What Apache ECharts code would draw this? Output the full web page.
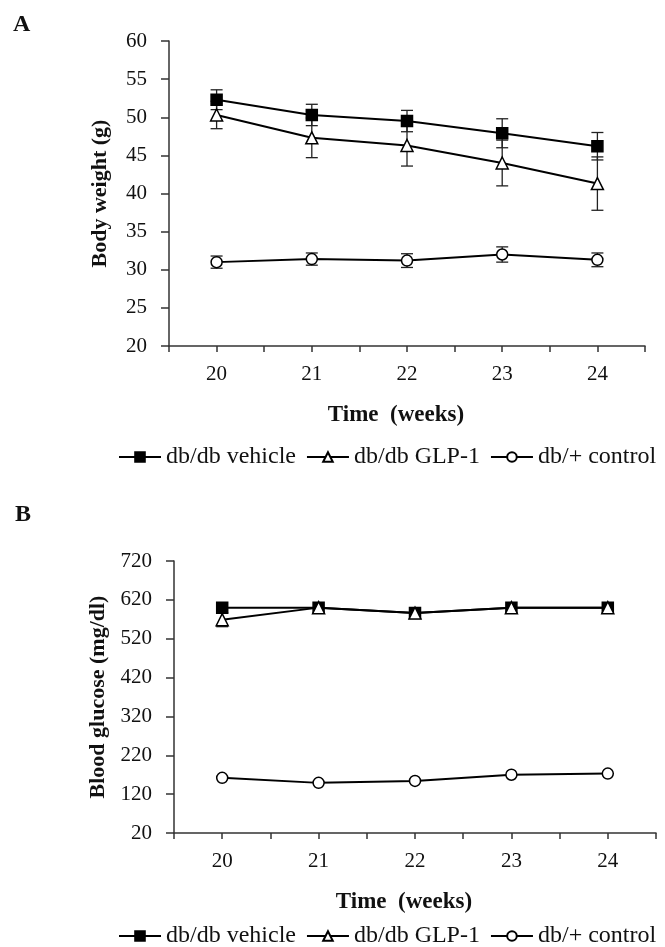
<!DOCTYPE html>
<html>
<head>
<meta charset="utf-8">
<script src="https://cdn.jsdelivr.net/npm/echarts@6/dist/echarts.min.js"></script>
<style>
  html, body { margin: 0; padding: 0; background: #fff; }
  #chart { width: 665px; height: 947px; }
</style>
</head>
<body>
<div id="chart"></div>
<script>
// weeks on the x axis
const weeks = [20, 21, 22, 23, 24];
const seriesNames = ['db/db vehicle', 'db/db GLP-1', 'db/+ control'];

// panel A: body weight (g), mean and error
const weightVehicle = [52.3, 50.3, 49.5, 47.9, 46.2];
const weightVehicleErr = [1.3, 1.4, 1.4, 1.9, 1.8];
const weightGlp = [50.3, 47.3, 46.3, 44.0, 41.3];
const weightGlpErr = [1.8, 2.6, 2.7, 3.0, 3.5];
const weightControl = [31.0, 31.4, 31.2, 32.0, 31.3];
const weightControlErr = [0.8, 0.8, 0.9, 1.0, 0.9];

// panel B: blood glucose (mg/dl)
const glucoseVehicle = [600, 600, 586, 600, 600];
const glucoseVehicleErr = [0, 0, 0, 0, 0];
const glucoseGlp = [569, 600, 586, 600, 600];
const glucoseGlpErr = [18, 0, 0, 0, 0];
const glucoseControl = [162, 149, 154, 170, 173];
const glucoseControlErr = [0, 0, 0, 0, 0];

const FONT = '"Liberation Serif", "Times New Roman", serif';
const AXIS_COLOR = '#333';

const chart = echarts.init(document.getElementById('chart'));

function xAxisFor(gridIndex) {
  return {
    type: 'value',
    gridIndex,
    min: 19.5,
    max: 24.5,
    interval: 0.5,
    name: 'Time  (weeks)',
    nameLocation: 'middle',
    nameGap: 58,
    nameTextStyle: { fontFamily: FONT, fontSize: 23, fontWeight: 'bold', color: '#111', padding: [0, 22, 0, 0] },
    splitLine: { show: false },
    axisLine: { lineStyle: { color: AXIS_COLOR, width: 1.5 } },
    axisTick: { length: 6, lineStyle: { color: AXIS_COLOR, width: 1.5 } },
    axisLabel: {
      margin: 18,
      fontFamily: FONT,
      fontSize: 21,
      color: '#111',
      formatter: (v) => (Number.isInteger(v) ? String(v) : '')
    }
  };
}

function yAxisFor(gridIndex, min, max, interval, name, gap) {
  return {
    type: 'value',
    gridIndex,
    min,
    max,
    interval,
    name,
    nameLocation: 'middle',
    nameGap: gap,
    nameRotate: 90,
    nameTextStyle: { fontFamily: FONT, fontSize: 22, fontWeight: 'bold', color: '#111' },
    splitLine: { show: false },
    axisLine: { show: true, lineStyle: { color: AXIS_COLOR, width: 1.5 } },
    axisTick: { show: true, length: 8, lineStyle: { color: AXIS_COLOR, width: 1.5 } },
    axisLabel: { margin: 22, fontFamily: FONT, fontSize: 21, color: '#111' }
  };
}

const markerStyle = {
  'db/db vehicle': { symbol: 'rect', symbolSize: 11, fill: '#000' },
  'db/db GLP-1': { symbol: 'triangle', symbolSize: 12, fill: '#fff' },
  'db/+ control': { symbol: 'circle', symbolSize: 11, fill: '#fff' }
};

function lineSeries(name, gridIndex, values) {
  const m = markerStyle[name];
  return {
    type: 'line',
    name,
    xAxisIndex: gridIndex,
    yAxisIndex: gridIndex,
    data: weeks.map((w, i) => [w, values[i]]),
    symbol: m.symbol,
    symbolSize: m.symbolSize,
    showSymbol: true,
    z: 3,
    lineStyle: { color: '#000', width: 2 },
    itemStyle: { color: m.fill, borderColor: '#000', borderWidth: 1.5 },
    emphasis: { disabled: true }
  };
}

function errorSeries(gridIndex, values, errs) {
  return {
    type: 'custom',
    xAxisIndex: gridIndex,
    yAxisIndex: gridIndex,
    silent: true,
    z: 2,
    encode: { x: 0, y: 1 },
    data: weeks.map((w, i) => [w, values[i], errs[i]]),
    renderItem: (params, api) => {
      const x = api.value(0);
      const y = api.value(1);
      const e = api.value(2);
      if (!e) return null;
      const top = api.coord([x, y + e]);
      const bot = api.coord([x, y - e]);
      const hw = 6;
      const style = { stroke: '#222', lineWidth: 1.3 };
      return {
        type: 'group',
        children: [
          { type: 'line', shape: { x1: top[0], y1: top[1], x2: bot[0], y2: bot[1] }, style },
          { type: 'line', shape: { x1: top[0] - hw, y1: top[1], x2: top[0] + hw, y2: top[1] }, style },
          { type: 'line', shape: { x1: bot[0] - hw, y1: bot[1], x2: bot[0] + hw, y2: bot[1] }, style }
        ]
      };
    }
  };
}

function legendFor(top) {
  return {
    top,
    left: 118,
    itemWidth: 42,
    itemHeight: 12,
    itemGap: 10,
    padding: 0,
    selectedMode: false,
    textStyle: { fontFamily: FONT, fontSize: 24, color: '#111' },
    data: seriesNames
  };
}

chart.setOption({
  animation: false,
  backgroundColor: '#fff',
  title: [
    { text: 'A', left: 13, top: 13, padding: 0, textStyle: { fontFamily: FONT, fontSize: 24, fontWeight: 'bold', color: '#111' } },
    { text: 'B', left: 15, top: 503, padding: 0, textStyle: { fontFamily: FONT, fontSize: 24, fontWeight: 'bold', color: '#111' } }
  ],
  legend: [legendFor(445), legendFor(924)],
  grid: [
    { left: 169, right: 20, top: 41, height: 305, containLabel: false },
    { left: 174, right: 9, top: 561, height: 272, containLabel: false }
  ],
  xAxis: [xAxisFor(0), xAxisFor(1)],
  yAxis: [
    yAxisFor(0, 20, 60, 5, 'Body weight (g)', 58),
    yAxisFor(1, 20, 720, 100, 'Blood glucose (mg/dl)', 62)
  ],
  series: [
    errorSeries(0, weightVehicle, weightVehicleErr),
    errorSeries(0, weightGlp, weightGlpErr),
    errorSeries(0, weightControl, weightControlErr),
    lineSeries('db/db vehicle', 0, weightVehicle),
    lineSeries('db/db GLP-1', 0, weightGlp),
    lineSeries('db/+ control', 0, weightControl),
    errorSeries(1, glucoseVehicle, glucoseVehicleErr),
    errorSeries(1, glucoseGlp, glucoseGlpErr),
    errorSeries(1, glucoseControl, glucoseControlErr),
    lineSeries('db/db vehicle', 1, glucoseVehicle),
    lineSeries('db/db GLP-1', 1, glucoseGlp),
    lineSeries('db/+ control', 1, glucoseControl)
  ]
});
</script>
</body>
</html>
